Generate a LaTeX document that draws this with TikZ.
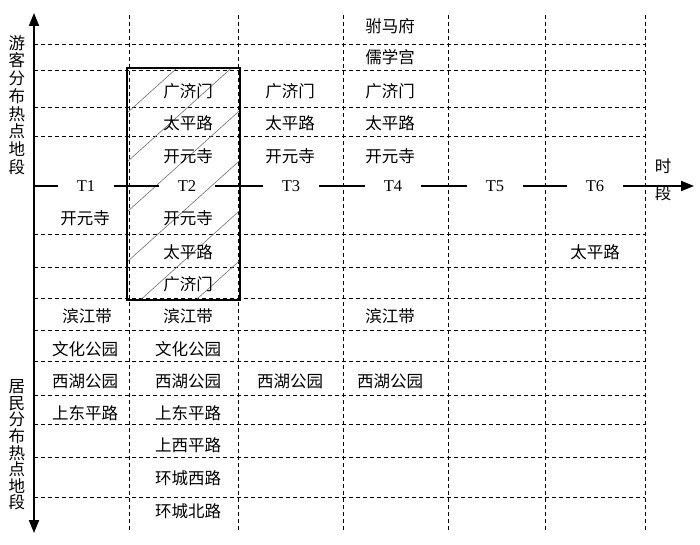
\documentclass[tikz,border=0pt]{standalone}
\usepackage{fontspec}
\setmainfont{Liberation Serif}
\newfontfamily\cjk{Noto Sans CJK SC}
\usetikzlibrary{arrows.meta}
\begin{document}
\begin{tikzpicture}[x=1pt,y=-1pt,
  dashline/.style={dash pattern=on 4pt off 3pt, line width=0.9pt},
  axisline/.style={line width=1.8pt},
  tip/.style={-{Triangle[length=13pt,width=10pt]}},
  cell/.style={font=\cjk\fontsize{16.5}{18}\selectfont, inner sep=0pt},
  vlabA/.style={font=\cjk\fontsize{16.5}{17.7}\selectfont, align=center, inner sep=0pt},
  vlabB/.style={font=\cjk\fontsize{16.5}{16.6}\selectfont, align=center, inner sep=0pt},
  tlab/.style={font=\fontsize{16.5}{18}\selectfont, minimum width=56pt, inner sep=0pt},
  hatchline/.style={black!55, line width=0.6pt},
  boxline/.style={line width=1.4pt}
  ]
\useasboundingbox (0,0) rectangle (700,545);

% dashed grid
\foreach \y in {44,70,107,136,234,267,298,330,361,395,424,457,497}
  \draw[dashline] (34,\y) -- (645,\y);
\foreach \x in {129,238,343,448,545,645}
  \draw[dashline] (\x,15) -- (\x,532);

% hatched box
\begin{scope}
  \clip (127,68) rectangle (240,300);
  \foreach \k in {113,162,212,262,312,362}
    \draw[hatchline] (127,\k) -- ++(150,-135);
\end{scope}
\draw[boxline] (127,68) rectangle (240,300);

% axes
\coordinate (o) at (34,186);
\coordinate (top) at (34,13);
\coordinate (bot) at (34,533);
\coordinate (rt) at (694,186);
\draw[axisline,tip] (o) -- (top);
\draw[axisline,tip] (o) -- (bot);

\node[tlab] (T1) at (86,186) {T1};
\node[tlab] (T2) at (187,186) {T2};
\node[tlab] (T3) at (291,186) {T3};
\node[tlab] (T4) at (393,186) {T4};
\node[tlab] (T5) at (495,186) {T5};
\node[tlab] (T6) at (595,186) {T6};
\draw[axisline] (o) -- (T1.west);
\draw[axisline] (T1.east) -- (T2.west);
\draw[axisline] (T2.east) -- (T3.west);
\draw[axisline] (T3.east) -- (T4.west);
\draw[axisline] (T4.east) -- (T5.west);
\draw[axisline] (T5.east) -- (T6.west);
\draw[axisline,tip] (T6.east) -- (rt);

% axis labels
\node[vlabA] (ylabA) at (17,105) {游\\客\\分\\布\\热\\点\\地\\段};
\node[vlabB] (ylabB) at (17,445) {居\\民\\分\\布\\热\\点\\地\\段};
\node[cell] (xlabA) at (663,166) {时};
\node[cell] (xlabB) at (663,193) {段};

% tourist hot spots
\node[cell] (d4) at (390,26) {驸马府};
\node[cell] (r4) at (390,57) {儒学宫};
\node[cell] (g2) at (188,91) {广济门};
\node[cell] (g3) at (290,91) {广济门};
\node[cell] (g4) at (390,91) {广济门};
\node[cell] (p2) at (188,123) {太平路};
\node[cell] (p3) at (290,123) {太平路};
\node[cell] (p4) at (390,123) {太平路};
\node[cell] (k2) at (188,156) {开元寺};
\node[cell] (k3) at (290,156) {开元寺};
\node[cell] (k4) at (390,156) {开元寺};

% resident hot spots
\node[cell] (k1b) at (85,218) {开元寺};
\node[cell] (k2b) at (188,218) {开元寺};
\node[cell] (p2b) at (188,252) {太平路};
\node[cell] (p6b) at (595,252) {太平路};
\node[cell] (g2b) at (188,284) {广济门};
\node[cell] (b1) at (87,316) {滨江带};
\node[cell] (b2) at (188,316) {滨江带};
\node[cell] (b4) at (390,316) {滨江带};
\node[cell] (w1) at (85,349) {文化公园};
\node[cell] (w2) at (188,349) {文化公园};
\node[cell] (x1) at (85,381) {西湖公园};
\node[cell] (x2) at (188,381) {西湖公园};
\node[cell] (x3) at (290,381) {西湖公园};
\node[cell] (x4) at (390,381) {西湖公园};
\node[cell] (s1) at (85,413) {上东平路};
\node[cell] (s2) at (188,413) {上东平路};
\node[cell] (sw2) at (188,445) {上西平路};
\node[cell] (h2) at (188,478) {环城西路};
\node[cell] (n2) at (188,511) {环城北路};
\end{tikzpicture}
\end{document}
